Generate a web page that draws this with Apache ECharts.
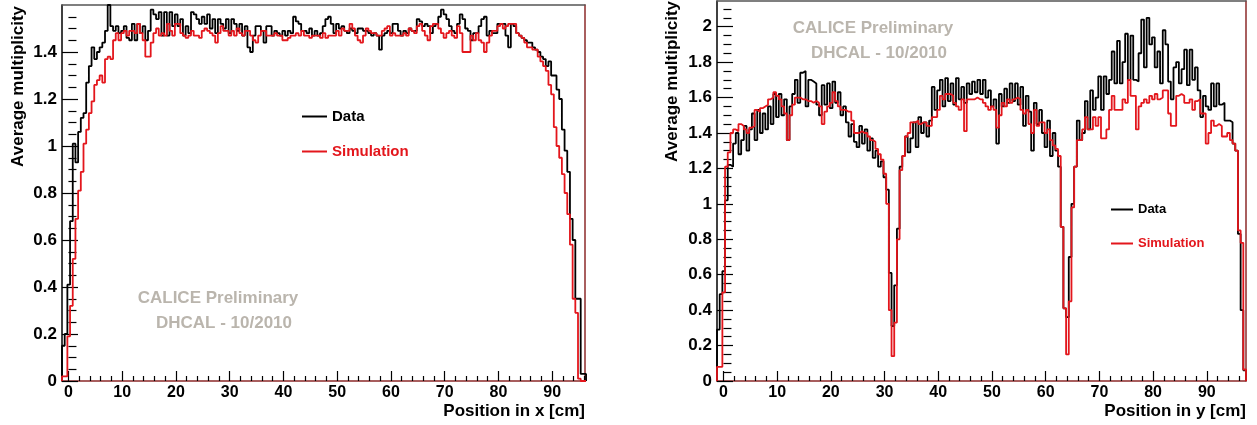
<!DOCTYPE html>
<html>
<head>
<meta charset="utf-8">
<script src="https://cdn.jsdelivr.net/npm/echarts@6/dist/echarts.min.js"></script>
<style>
html,body{margin:0;padding:0;background:#fff;}
#chart{width:1257px;height:425px;}
</style>
</head>
<body>
<div id="chart"></div>
<script>
// ---------------- data ----------------
const binWidth = 0.5;
const leftXStart = -1.2;   // first bin edge, left panel (position in x)
const rightXStart = -1.2;  // first bin edge, right panel (position in y)

const leftData = [
0.15,0.20,0.41,0.68,1.01,0.93,1.06,1.12,1.14,1.27,1.34,1.42,1.37,1.40,1.42,1.44,1.49,1.60,1.51,1.49,
1.51,1.48,1.49,1.51,1.46,1.45,1.52,1.45,1.52,1.48,1.51,1.45,1.49,1.58,1.56,1.54,1.57,1.47,1.57,1.47,1.57,
1.51,1.56,1.51,1.54,1.47,1.51,1.48,1.57,1.56,1.54,1.52,1.55,1.52,1.56,1.50,1.54,1.48,1.54,1.52,1.50,
1.54,1.48,1.54,1.52,1.49,1.52,1.47,1.51,1.42,1.40,1.47,1.51,1.51,1.49,1.44,1.51,1.51,1.47,1.49,1.48,1.47,1.49,1.47,1.49,1.48,1.55,1.53,1.52,1.49,1.49,
1.48,1.50,1.47,1.49,1.47,
1.48,1.51,1.54,1.55,1.52, 1.48,1.52,1.50,1.51,1.49, 1.48,1.50,1.49,1.48,1.50, 1.50,1.49,1.49,1.48,1.47,
1.48,1.47,1.41,1.47,1.48, 1.49,1.48,1.52,1.52,1.49, 1.47,1.49,1.48,1.50,1.49, 1.49,1.54,1.53,1.51,1.52,
1.51,1.48,1.51,1.52,1.55, 1.58,1.56,1.54,1.51,1.49, 1.48,1.52,1.56,1.54,1.50, 1.49,1.45,1.48,1.48,1.51,
1.54,1.55,1.47,1.49,1.48, 1.48,1.52,1.52,1.52,1.47, 1.42,1.52,1.51,1.48,1.47, 1.46,1.45,1.44,1.44,1.42,
1.41,
1.40,1.38,1.37,1.34,1.36,1.30,1.30,1.24,1.20,1.07,0.98,0.89,0.69,0.60,0.35,0.35,0.03,0.03
];
const leftSim = [
0.02,0.02,0.19,0.32,0.52,0.69,0.81,0.89,1.01,1.07,1.14,1.19,1.26,1.28,1.30,1.27,1.37,1.38,1.37,1.45,1.48,
1.45,1.48,1.49,1.47,1.49,1.49,1.48,1.52,1.48,1.45, 1.38,1.38,1.44,1.48,1.50,1.47,1.48,1.47,1.52,1.49,
1.47,1.52,1.52,1.48,1.47,1.46,1.47,1.49,1.47,1.47, 1.46,1.49,1.50,1.49,1.48,1.47,1.44,1.48,1.51,1.49,
1.49,1.47,1.49,1.47,1.50,1.48,1.47,1.49,1.49,1.47, 1.45,1.44,1.47,1.49,1.49,1.47,1.47,1.47,1.48,1.47,
1.47,1.45,1.45,1.46,1.47,1.47,1.48,1.47,1.49,1.47, 1.47,1.46,1.47,1.47,1.47,
1.46,1.48,1.46,1.47,1.47, 1.47,1.49,1.47,1.50,1.49, 1.49,1.52,1.50,1.47,1.45, 1.44,1.47,1.50,1.49,1.48,
1.48,1.47,1.47,1.49,1.50, 1.51,1.47,1.48,1.47,1.47, 1.47,1.48,1.47,1.50,1.49, 1.48,1.51,1.52,1.49,1.47,
1.45,1.51,1.52,1.52,1.50, 1.48,1.46,1.48,1.49,1.47, 1.46,1.51,1.48,1.40,1.40, 1.40,1.47,1.45,1.48,1.45,
1.44,1.40,1.44,1.47,1.49, 1.49,1.51,1.52,1.50,1.51, 1.52,1.52,1.52,1.48,1.47, 1.46,1.44,1.42,1.42,1.41,
1.41,1.38,1.36,1.34,1.32, 1.26,
1.22,1.08,1.00,0.95,0.88,0.80,0.71,0.58,0.35,0.29,0.01,0.0,0.0
];
const rightData = [
0.29,0.49,0.62,1.02,1.22,1.21,1.34,1.40,1.28,1.36, 1.44,1.30,1.42,1.51,1.36,1.53,1.40,1.51,1.42,1.55,
1.45,1.62,1.49,1.62,1.50,1.59,1.36,1.55,1.62,1.70, 1.57,1.74,1.75,1.55,1.70,1.69,1.68,1.56,1.50,1.67,
1.56,1.68,1.54,1.69,1.57,1.63,1.50,1.55,1.46,1.38, 1.45,1.35,1.32,1.44,1.34,1.42,1.30,1.37,1.26,1.30,
1.21,1.24,1.15,1.08,0.61,0.31,0.54,0.86,
1.21,1.27,1.38,1.29,1.37,1.46,1.32,1.49,1.40,1.46,1.38,1.47,1.66,1.53,1.64,
1.70,1.55,1.71,1.58,1.68,1.56,1.71,1.59,1.66,1.57, 1.68,1.62,1.69,1.63,1.70,1.62,1.70,1.60,1.64,1.55,
1.59,1.34,1.62,1.55,1.65,1.57,1.68,1.58,1.68,1.56, 1.66,1.44,1.61,1.52,1.30,1.57,1.45,1.53,1.40,1.32,
1.47,1.27,1.40,1.30,1.21,
0.87,0.41,0.36,0.70,1.00,
1.21,1.47,1.36,1.40,1.58,1.42,1.64,1.53,1.60,1.72, 1.53,1.72,1.62,1.70,1.86,1.68,1.92,1.68,1.80,1.96,
1.70,1.95,1.70,1.69,1.85,2.04,1.77,2.05,1.90,1.94, 1.77,1.86,1.68,1.98,1.90,1.69,1.59,1.77,1.80,1.68,
1.76,1.87,1.67,1.87,1.70,1.77,1.64,1.49,1.61,1.55, 1.53,1.68,1.55,1.68,1.56,1.57,1.47,1.47,1.46,1.34,
1.30,0.83,0.40,0.06
];
const rightSim = [
0.08,0.08,0.50,1.21,1.29,1.40,1.42,1.41,1.45,1.44, 1.42,1.40,1.43,1.44,1.53,1.52,1.54,1.55,1.56,1.59,
1.60,1.63,1.61,1.59,1.55,1.51,1.36,1.50,1.56,1.60, 1.60,1.59,1.59,1.58,1.58,1.57,1.58,1.57,1.55,1.45,
1.52,1.55,1.57,1.63,1.58,1.55,1.53,1.53,1.52,1.52, 1.47,1.40,1.40,1.41,1.40,1.40,1.38,1.36,1.35,1.31,
1.28,1.25,1.17,1.00,0.40,0.14,0.33,0.80,
1.19,1.27,1.38,1.40,1.46,1.46,1.47,1.45,1.46,1.46,1.44,1.44,1.49,1.49,1.53,
1.61,1.59,1.62,1.62,1.61,1.57,1.55,1.53,1.59,1.41, 1.59,1.59,1.59,1.60,1.59,1.59,1.57,1.55,1.53,1.55,
1.53,1.43,1.50,1.57,1.55,1.59,1.57,1.59,1.60,1.59, 1.53,1.51,1.53,1.45,1.40,1.53,1.44,1.46,1.46,1.40,
1.42,1.36,1.33,1.31,1.27,
0.87,0.41,0.15,0.45,0.98,
1.21,1.36,1.36,1.42,1.49,1.42,1.42,1.49,1.44,1.49, 1.37,1.37,1.42,1.53,1.61,1.53,1.53,1.53,1.59,1.57,
1.70,1.61,1.61,1.42,1.55,1.57,1.59,1.57,1.61,1.59, 1.62,1.59,1.60,1.64,1.64,1.51,1.44,1.44,1.61,1.62,
1.61,1.57,1.57,1.59,1.53,1.58,1.59,1.51,1.51,1.34, 1.40,1.47,1.44,1.45,1.44,1.38,1.38,1.40,1.36,1.34,
1.30,0.85,0.78,0.065
];

const xTickLabels = [0,10,20,30,40,50,60,70,80,90];
const leftYTicks = [0,0.2,0.4,0.6,0.8,1,1.2,1.4];
const rightYTicks = [0,0.2,0.4,0.6,0.8,1,1.2,1.4,1.6,1.8,2];
const leftRange = {xMin:-1.2, xMax:96.1, yMax:1.6};
const rightRange = {xMin:-1.2, xMax:97.3, yMax:2.145};

// --------------- helpers ---------------
function histPoints(vals, x0, w){
  const d=[[x0,0]];
  vals.forEach((v,i)=>d.push([+(x0+i*w).toFixed(4), v]));
  const xe=+(x0+vals.length*w).toFixed(4);
  d.push([xe, vals[vals.length-1]]);
  d.push([xe, 0]);
  return d;
}
function minorTicks(step, sub, lo, hi){
  const out=[]; const ms=step/sub;
  const start=Math.ceil(lo/ms-1e-9), end=Math.floor(hi/ms+1e-9);
  for(let k=start;k<=end;k++){ if(k%sub!==0) out.push(+(k*ms).toFixed(4)); }
  return out;
}
const FONT='"Liberation Sans", Arial, Helvetica, sans-serif';
const RED='#e3161c';
const FRAME_RED='#8c2a2a';

const grids=[
  {left:62, top:5, width:523, height:376},
  {left:717, top:1, width:529, height:380}
];
const ranges=[leftRange,rightRange];
const yTicksList=[leftYTicks,rightYTicks];

const xAxes=[], yAxes=[];
ranges.forEach((r,g)=>{
  xAxes.push({type:'value', gridIndex:g, min:r.xMin, max:r.xMax, position:'bottom',
    axisLine:{show:true, onZero:false, lineStyle:{color:FRAME_RED, width:1.5}},
    axisTick:{show:true, inside:true, length:10, customValues:xTickLabels, lineStyle:{color:'#000', width:1.2}},
    axisLabel:{show:true, customValues:xTickLabels, margin:4, color:'#000', fontWeight:'bold', fontSize:16, fontFamily:FONT},
    splitLine:{show:false}});
  xAxes.push({type:'value', gridIndex:g, min:r.xMin, max:r.xMax, position:'bottom',
    axisLine:{show:false}, axisLabel:{show:false}, splitLine:{show:false},
    axisTick:{show:true, inside:true, length:5, customValues:minorTicks(10,5,r.xMin,r.xMax), lineStyle:{color:'#000', width:1.2}}});
  xAxes.push({type:'value', gridIndex:g, min:r.xMin, max:r.xMax, position:'top',
    axisLine:{show:true, onZero:false, lineStyle:{color:'#555', width:1.5}}, axisTick:{show:false}, axisLabel:{show:false}, splitLine:{show:false}});
  const yt=yTicksList[g];
  yAxes.push({type:'value', gridIndex:g, min:0, max:r.yMax, position:'left',
    axisLine:{show:true, onZero:false, lineStyle:{color:'#000', width:1.5}},
    axisTick:{show:true, inside:true, length:16, customValues:yt, lineStyle:{color:'#000', width:1.2}},
    axisLabel:{show:true, customValues:yt, margin:5, color:'#000', fontWeight:'bold', fontSize:17, fontFamily:FONT},
    splitLine:{show:false}});
  yAxes.push({type:'value', gridIndex:g, min:0, max:r.yMax, position:'left',
    axisLine:{show:false}, axisLabel:{show:false}, splitLine:{show:false},
    axisTick:{show:true, inside:true, length:8, customValues:minorTicks(0.2,4,0,r.yMax), lineStyle:{color:'#000', width:1.2}}});
  yAxes.push({type:'value', gridIndex:g, min:0, max:r.yMax, position:'right',
    axisLine:{show:true, onZero:false, lineStyle:{color:FRAME_RED, width:1.5}}, axisTick:{show:false}, axisLabel:{show:false}, splitLine:{show:false}});
});

function histSeries(name, vals, x0, g, color){
  return {name, type:'line', step:'end', xAxisIndex:g*3, yAxisIndex:g*3,
    data:histPoints(vals, x0, binWidth), showSymbol:false, symbol:'none',
    lineStyle:{color, width:1.8}, itemStyle:{color}, clip:true, animation:false, silent:true,
    z:(name==='Simulation')?3:2};
}

const series=[
  histSeries('Data', leftData, leftXStart, 0, '#000'),
  histSeries('Simulation', leftSim, leftXStart, 0, RED),
  histSeries('Data', rightData, rightXStart, 1, '#000'),
  histSeries('Simulation', rightSim, rightXStart, 1, RED)
];

const WM='#bab5ad';
const graphic=[
  {type:'text', x:18, y:6, rotation:Math.PI/2, style:{text:'Average multiplicity', font:'bold 17px '+FONT, fill:'#000', align:'right', verticalAlign:'middle'}},
  {type:'text', x:672, y:1, rotation:Math.PI/2, style:{text:'Average multiplicity', font:'bold 17px '+FONT, fill:'#000', align:'right', verticalAlign:'middle'}},
  {type:'text', x:585, y:411, style:{text:'Position in x [cm]', font:'bold 17px '+FONT, fill:'#000', align:'right', verticalAlign:'middle'}},
  {type:'text', x:1246, y:411, style:{text:'Position in y [cm]', font:'bold 17px '+FONT, fill:'#000', align:'right', verticalAlign:'middle'}},
  {type:'text', x:218, y:298, style:{text:'CALICE Preliminary', font:'bold 17px '+FONT, fill:WM, align:'center', verticalAlign:'middle'}},
  {type:'text', x:224, y:323, style:{text:'DHCAL - 10/2010', font:'bold 17px '+FONT, fill:WM, align:'center', verticalAlign:'middle'}},
  {type:'text', x:873, y:28, style:{text:'CALICE Preliminary', font:'bold 17px '+FONT, fill:WM, align:'center', verticalAlign:'middle'}},
  {type:'text', x:879, y:53, style:{text:'DHCAL - 10/2010', font:'bold 17px '+FONT, fill:WM, align:'center', verticalAlign:'middle'}}
];

const legends=[
  {left:297, top:104, orient:'vertical', itemWidth:25, itemHeight:2, itemGap:20, icon:'rect',
   selectedMode:false, textStyle:{fontWeight:'bold', fontSize:15, fontFamily:FONT},
   data:[{name:'Data', textStyle:{color:'#000'}},{name:'Simulation', textStyle:{color:RED}}]},
  {left:1106, top:198, orient:'vertical', itemWidth:22, itemHeight:2, itemGap:21, icon:'rect',
   selectedMode:false, textStyle:{fontWeight:'bold', fontSize:13, fontFamily:FONT},
   data:[{name:'Data', textStyle:{color:'#000'}},{name:'Simulation', textStyle:{color:RED}}]}
];

const chart=echarts.init(document.getElementById('chart'), null, {renderer:'canvas'});
chart.setOption({
  animation:false,
  backgroundColor:'#fff',
  grid:grids,
  xAxis:xAxes,
  yAxis:yAxes,
  legend:legends,
  graphic:graphic,
  series:series
});
</script>
</body>
</html>
